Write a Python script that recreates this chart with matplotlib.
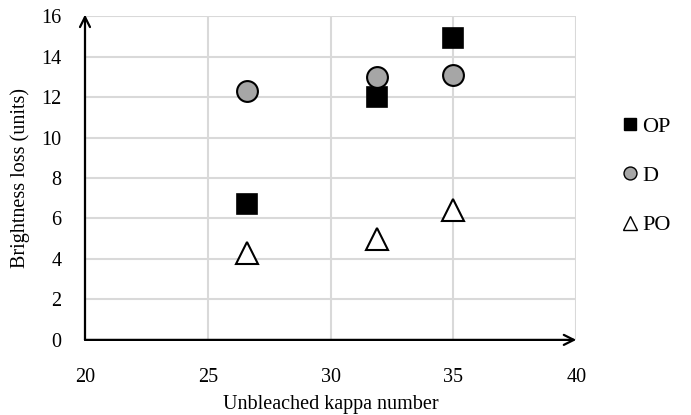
import matplotlib
matplotlib.use("Agg")
import matplotlib.pyplot as plt

# Unbleached kappa number vs brightness loss for three bleaching sequences
kappa = [26.6, 31.9, 35.0]
loss_op = [6.7, 12.0, 14.9]
loss_d = [12.3, 13.0, 13.1]
loss_po = [4.3, 5.0, 6.4]

plt.rcParams.update({
    "font.family": ["Liberation Serif", "DejaVu Serif"],
    "font.size": 14.5,
})

fig = plt.figure(figsize=(6.91, 4.15), dpi=100)
ax = fig.add_axes([0.123, 0.181, 0.711, 0.780])

grid = "#d9d9d9"
ax.set_xlim(20, 40)
ax.set_ylim(0, 16)
ax.set_xticks(range(20, 41, 5))
ax.set_yticks(range(0, 17, 2))
ax.grid(True, color=grid, lw=1.5)
ax.set_axisbelow(True)
for side in ("top", "right", "left", "bottom"):
    ax.spines[side].set_visible(False)
ax.tick_params(axis="x", length=0, pad=20, labelsize=14.5)
ax.tick_params(axis="y", length=0, pad=17, labelsize=14.5)

# axes drawn as arrows
ax.annotate("", xy=(0, 1.005), xytext=(0, 0), xycoords="axes fraction",
            arrowprops=dict(arrowstyle="->", color="black", lw=1.6,
                            shrinkA=0, shrinkB=0, mutation_scale=18))
ax.annotate("", xy=(1.0, 0), xytext=(0, 0), xycoords="axes fraction",
            arrowprops=dict(arrowstyle="->", color="black", lw=1.6,
                            shrinkA=0, shrinkB=0, mutation_scale=18))

ax.plot(kappa, loss_op, "s", ms=15, mfc="black", mec="black", mew=1.2,
        ls="none", label="OP", zorder=3)
ax.plot(kappa, loss_d, "o", ms=15, mfc="#a6a6a6", mec="black", mew=1.5,
        ls="none", label="D", zorder=4)
ax.plot(kappa, loss_po, "^", ms=16, mfc="white", mec="black", mew=1.5,
        ls="none", label="PO", zorder=3)

ax.set_xlabel("Unbleached kappa number", fontsize=14.5, labelpad=6)
ax.set_ylabel("Brightness loss (units)", fontsize=14.5, labelpad=8)

leg = fig.legend(loc="upper left", bbox_to_anchor=(0.889, 0.742), frameon=False,
                 markerscale=0.62, handlelength=0.6, handletextpad=0.25,
                 labelspacing=1.3, fontsize=16, borderaxespad=0)
for h in leg.legend_handles:
    h.set_markeredgewidth(1.0)

fig.savefig("out.png", dpi=100, facecolor="white")
